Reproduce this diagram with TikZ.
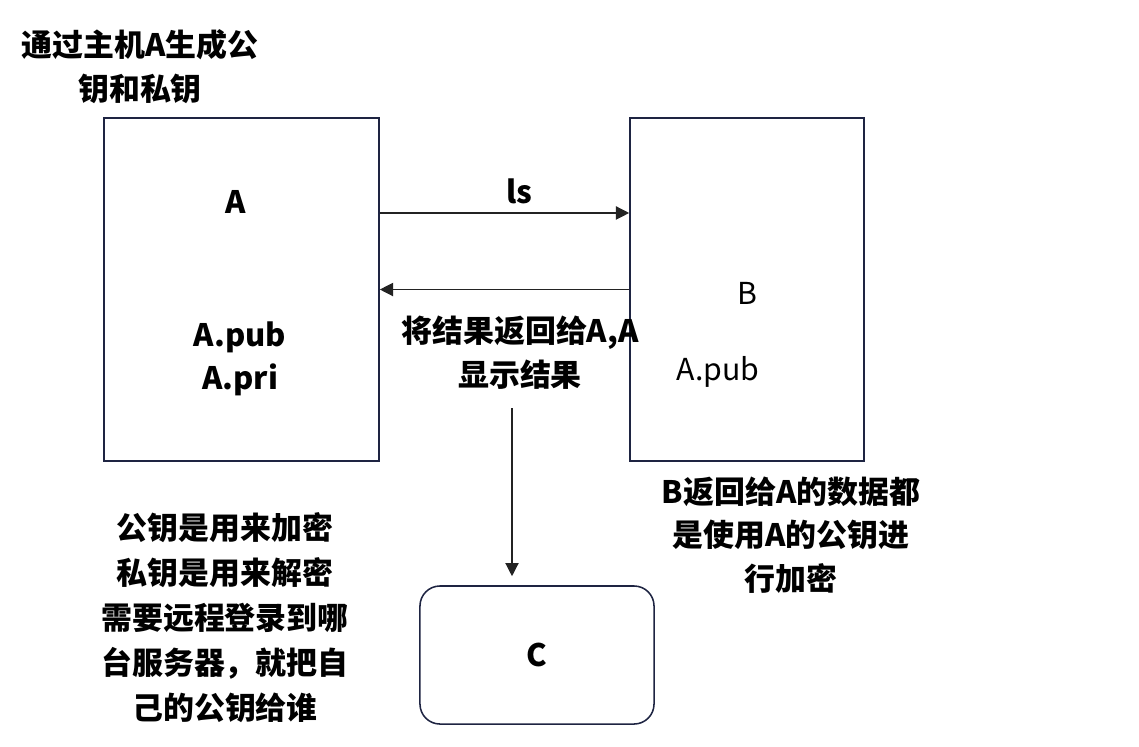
\documentclass[tikz,border=0pt]{standalone}
\usepackage{fontspec}
\setmainfont{Noto Sans CJK SC}
\usepackage{tikz}
\usetikzlibrary{arrows.meta}
\definecolor{boxnavy}{RGB}{30,36,66}
\definecolor{linkgray}{RGB}{35,35,35}

\begin{document}
\begin{tikzpicture}[x=0.025cm, y=-0.025cm,
    txt/.style={font=\fontsize{22}{31}\selectfont\bfseries, align=center, inner sep=0pt},
    plaintxt/.style={font=\fontsize{21.5}{31}\selectfont, inner sep=0pt},
    hostbox/.style={draw=boxnavy, line width=1.1pt, minimum height=8.575cm},
    link/.style={draw=linkgray, line width=0.9pt, -{Triangle[length=0.33cm, width=0.33cm]}}]
    \useasboundingbox (0,0) rectangle (1139,746);

    % host A
    \node[hostbox, minimum width=6.875cm] (hostA) at (241.5,289.5) {};
    \node[txt] (nameA) at (236,202) {A};
    \node[txt] (keysA) at (240,359) {A.pub\\A.pri};
    \node[txt] (title) at (140,66.5) {通过主机A生成公\\钥和私钥};

    % host B
    \node[hostbox, minimum width=5.85cm] (hostB) at (747,289.5) {};
    \node[plaintxt] (nameB) at (747,293) {B};
    \node[plaintxt] (pubB) at (718,372) {A.pub};
    \node[txt] (noteB) at (791,535) {B返回给A的数据都\\是使用A的公钥进\\行加密};

    % host C
    \node[draw=boxnavy, line width=1.1pt, rounded corners=0.5cm,
          minimum width=5.85cm, minimum height=3.45cm, txt] (hostC) at (537,655) {C};

    % arrows
    \draw[link] ([yshift=1.9125cm]hostA.east) -- ([yshift=1.9125cm]hostB.west)
        node[midway, above=0.2cm, xshift=0.38cm, txt] (cmd) {ls};
    \draw[link] (hostB.west) -- (hostA.east);
    \node[txt] (reply) at (520,352.5) {将结果返回给A,A\\显示结果};
    \coordinate (down) at (512,408);
    \draw[link, shorten >=0.225cm] (down) -- (hostC.north -| down);

    % notes
    \node[txt, font=\fontsize{22}{32}\selectfont\bfseries] (keynote) at (225,617.5)
        {公钥是用来加密\\私钥是用来解密\\需要远程登录到哪\\台服务器，就把自\\己的公钥给谁};
\end{tikzpicture}
\end{document}
